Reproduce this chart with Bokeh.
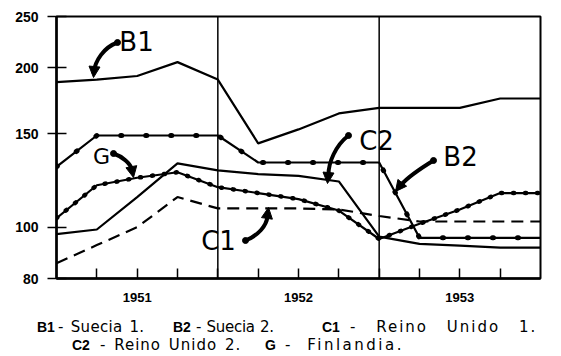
import math
from bokeh.plotting import figure
from bokeh.layouts import column
from bokeh.models import FixedTicker, Span, Label, Arrow, NormalHead, Range1d, Div
from bokeh.embed import file_html
from bokeh.resources import INLINE

# ---- data (quarterly index values, 1951-1953; x = quarter boundary index) ----
quarters = list(range(13))
b1 = [188, 190, 193, 205, 190, 144, 153, 164, 168, 168, 168, 175, 175]
b2 = [130, 149, 149, 149, 149, 132.5, 132.5, 132.5, 132.5, 95.5, 95.5, 95.5, 95.5]
c1 = [85.5, 92.5, 100, 114, 108.5, 108.5, 108.5, 108, 105, 102.5, 102.5, 102.5, 102.5]
c2 = [97, 99, 114, 132, 128, 126, 125, 122, 96, 93, 92.3, 91.5, 91.5]
g = [104, 120, 124, 127, 119, 116, 113, 107.5, 95, 101.5, 108, 116, 116]

y_ticks = [80, 100, 150, 200, 250]
year_ticks = [2, 6, 10]
year_labels = ["1951", "1952", "1953"]
year_bounds = [4, 8]

# legend pieces: code, description, code x, description x, letter-spacing, word-spacing
legend_rows = [
    [("B1", "- Suecia 1.", 37, 58, 0.3, 2), ("B2", "- Suecia 2.", 173, 196, -0.3, 1),
     ("C1", "- Reino Unido 1.", 322, 350, 2.0, 12)],
    [("C2", "- Reino Unido 2.", 72, 100, 1.0, 2), ("G", "- Finlandia.", 265, 285, 2.5, 7)],
]

FL, FT, FW, FH = 56, 16, 484, 262  # frame in reference-image pixels
H = 308
W = 553


def at(px, py):
    """reference-image pixel -> data coordinates (for annotation placement)"""
    k = (px - FL) / (FW / 12)
    v = 250 * 10 ** (-(py - FT) / FH * math.log10(250 / 80))
    return k, v


p = figure(frame_width=FW, frame_height=FH, x_range=Range1d(0, 12), y_range=Range1d(80, 250),
           y_axis_type="log", output_backend="svg", toolbar_location=None,
           min_border_left=FL, min_border_right=W - FL - FW, min_border_top=FT,
           min_border_bottom=H - FT - FH, margin=(0, 0, 0, 0))
p.grid.visible = False
p.outline_line_color = "black"
p.outline_line_width = 2
p.background_fill_color = "white"
p.border_fill_color = "white"

# x axis
p.xaxis.ticker = FixedTicker(ticks=list(range(1, 12)))
p.xaxis.major_label_overrides = {i: "" for i in range(1, 12)}
for t, lab in zip(year_ticks, year_labels):
    p.xaxis.major_label_overrides[t] = lab
p.xaxis.major_tick_in = 10
p.xaxis.major_tick_out = 0
p.xaxis.minor_tick_line_color = None
p.xaxis.axis_line_width = 2.5
p.xaxis.major_tick_line_width = 1.5
p.xaxis.major_label_standoff = 14
p.xaxis.major_label_text_font = "Liberation Sans"
p.xaxis.major_label_text_font_style = "bold"
p.xaxis.major_label_text_font_size = "13px"
p.xaxis.major_label_text_color = "black"

# y axis
p.yaxis.ticker = FixedTicker(ticks=y_ticks)
p.yaxis.major_label_overrides = {t: str(t) for t in y_ticks}
p.yaxis.major_tick_in = 10
p.yaxis.major_tick_out = 9
p.yaxis.minor_tick_line_color = None
p.yaxis.axis_line_width = 2.5
p.yaxis.major_tick_line_width = 1.5
p.yaxis.major_label_standoff = 9
p.yaxis.major_label_text_font = "Liberation Sans"
p.yaxis.major_label_text_font_style = "bold"
p.yaxis.major_label_text_font_size = "14px"
p.yaxis.major_label_text_color = "black"

for xb in year_bounds:
    p.add_layout(Span(location=xb, dimension="height", line_color="black", line_width=1.5))

lw = 2.2
p.line(quarters, b1, line_color="black", line_width=lw)
p.line(quarters, c2, line_color="black", line_width=lw)
p.line(quarters, c1, line_color="black", line_width=lw, line_dash="12 7")
p.line(quarters, b2, line_color="black", line_width=lw)
p.line(quarters, b2, line_color="black", line_width=5, line_dash="1 24", line_cap="round")
p.line(quarters, g, line_color="black", line_width=lw)
p.line(quarters, g, line_color="black", line_width=4.5, line_dash="1 11", line_cap="round")

# series tags
tags = [("B1", 136, 41, "26px"), ("G", 101, 156, "22px"), ("C2", 376, 140, "26px"),
        ("B2", 460, 156, "26px"), ("C1", 218, 240, "26px")]
for txt, px, py, fs in tags:
    x, y = at(px, py)
    p.add_layout(Label(x=x, y=y, text=txt, text_align="center", text_baseline="alphabetic",
                       text_font="DejaVu Sans", text_font_size=fs, text_color="black"))

# curved pointer arrows (tail, ctrl1, ctrl2, tip, head-start, head-end)
arrows = [
    ((117, 42), (103, 47), (95, 60), (93, 72), (94, 66), (93, 77)),
    ((113, 153), (122, 156), (130, 163), (132, 170), (131, 167), (133, 177)),
    ((348, 135), (335, 145), (328, 162), (328, 174), (328, 172), (327, 183)),
    ((433, 160), (420, 168), (407, 177), (401, 184), (402, 182), (395, 191)),
    ((245, 240), (258, 235), (266, 225), (267, 216), (267, 214), (268, 207)),
]
for t, a, b, e, hs, he in arrows:
    (x0, y0), (xa, ya), (xb, yb), (x1, y1) = at(*t), at(*a), at(*b), at(*e)
    p.bezier(x0=[x0], y0=[y0], cx0=[xa], cy0=[ya], cx1=[xb], cy1=[yb], x1=[x1], y1=[y1],
             line_color="black", line_width=4, line_cap="round")
    p.scatter(x=[x0], y=[y0], size=6, color="black")
    (hx0, hy0), (hx1, hy1) = at(*hs), at(*he)
    p.add_layout(Arrow(x_start=hx0, y_start=hy0, x_end=hx1, y_end=hy1, line_width=3,
                       end=NormalHead(size=11, fill_color="black", line_color="black")))

# legend text below the chart
baselines = [332, 350]
spans = []
for row, base in zip(legend_rows, baselines):
    top = base - H - 12
    for code, desc, xc, xd, ls, ws in row:
        spans.append(f'<span style="position:absolute;left:{xc}px;top:{top}px;line-height:14px;'
                     f'font-family:\'Liberation Sans\';font-weight:bold;font-size:14px;'
                     f'white-space:nowrap">{code}</span>')
        spans.append(f'<span style="position:absolute;left:{xd}px;top:{top}px;line-height:14px;'
                     f'letter-spacing:{ls}px;word-spacing:{ws}px;white-space:nowrap">{desc}</span>')
html = ('<div style="position:relative;width:%dpx;height:46px;font-family:\'DejaVu Sans\';'
        'font-size:15px;color:black;background:white">%s</div>') % (W, "".join(spans))
legend_div = Div(text=html, width=W, height=46, margin=(0, 0, 0, 0))

layout = column(p, legend_div, spacing=0)
open("out.html", "w").write(file_html(layout, INLINE))
